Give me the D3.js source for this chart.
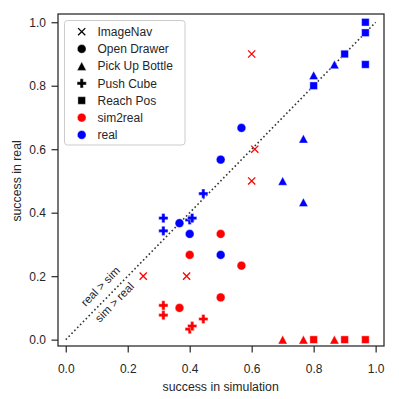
<!DOCTYPE html>
<html><head><meta charset="utf-8">
<script src="https://cdn.jsdelivr.net/npm/d3@7"></script>
<style>body{margin:0;background:#fff}svg{display:block}text{font-family:"Liberation Sans",Arial,sans-serif;fill:#262626}</style>
</head><body><svg id="c" width="399" height="399"></svg>
<script>
const tasks = ["ImageNav","Open Drawer","Pick Up Bottle","Push Cube","Reach Pos"];
const sources = ["sim2real","real"];
const sourceColors = ["#ff0000","#0000ff"];
const xTicks = [0,0.2,0.4,0.6,0.8,1.0];
const yTicks = [0,0.2,0.4,0.6,0.8,1.0];

// real (blue)
const realTask = ["Reach Pos","Reach Pos","Reach Pos","Reach Pos","Reach Pos",
  "Pick Up Bottle","Pick Up Bottle","Pick Up Bottle","Pick Up Bottle","Pick Up Bottle",
  "Open Drawer","Open Drawer","Open Drawer","Open Drawer","Open Drawer",
  "Push Cube","Push Cube","Push Cube","Push Cube","Push Cube"];
const realSim = [0.967,0.967,0.9,0.967,0.8, 0.867,0.8,0.767,0.7,0.767, 0.567,0.5,0.367,0.4,0.5, 0.444,0.315,0.315,0.4,0.408];
const realReal = [1.0,0.967,0.9,0.867,0.8, 0.867,0.833,0.633,0.5,0.433, 0.667,0.567,0.367,0.333,0.267, 0.46,0.383,0.343,0.377,0.383];

// sim2real (red)
const s2rTask = ["ImageNav","ImageNav","ImageNav","ImageNav","ImageNav",
  "Open Drawer","Open Drawer","Open Drawer","Open Drawer","Open Drawer",
  "Push Cube","Push Cube","Push Cube","Push Cube","Push Cube",
  "Pick Up Bottle","Pick Up Bottle","Pick Up Bottle",
  "Reach Pos","Reach Pos","Reach Pos"];
const s2rSim = [0.6,0.61,0.6,0.25,0.39, 0.5,0.4,0.567,0.5,0.367, 0.315,0.315,0.444,0.4,0.408, 0.7,0.767,0.867, 0.8,0.9,0.967];
const s2rReal = [0.9,0.6,0.5,0.2,0.2, 0.333,0.267,0.233,0.133,0.1, 0.108,0.077,0.065,0.033,0.043, 0,0,0, 0,0,0];

const svg = d3.select("#c");
const L=58, R=384, T=14, B=346;
const x = d3.scaleLinear().domain([-0.025,1.027]).range([L,R]);
const y = d3.scaleLinear().domain([-0.02,1.026]).range([B,T]);

function markerPath(task){
  if(task==="Open Drawer") return d3.symbol(d3.symbolCircle, 60)();
  if(task==="Reach Pos") return d3.symbol(d3.symbolSquare, 58)();
  if(task==="Pick Up Bottle"){ const w=4.6, h=4.3; return `M0,${-h}L${w},${h}L${-w},${h}Z`; }
  if(task==="Push Cube"){ const a=4.6, b=1.6;
    return `M${-b},${-a}H${b}V${-b}H${a}V${b}H${b}V${a}H${-b}V${b}H${-a}V${-b}H${-b}Z`; }
  if(task==="ImageNav"){ const a=3.6; return `M${-a},${-a}L${a},${a}M${-a},${a}L${a},${-a}`; }
}
function drawMarker(g, task, color, px, py){
  const isX = task==="ImageNav";
  g.append("path").attr("d", markerPath(task)).attr("transform",`translate(${px},${py})`)
    .attr("fill", isX ? "none" : color)
    .attr("stroke", isX ? color : "#fff").attr("stroke-width", isX?1.3:0.4);
}

// axes
const gx = svg.append("g").attr("transform",`translate(0,${B})`)
  .call(d3.axisBottom(x).tickValues(xTicks).tickFormat(d3.format(".1f")).tickSizeOuter(0).tickSize(6.5).tickPadding(5));
const gy = svg.append("g").attr("transform",`translate(${L},0)`)
  .call(d3.axisLeft(y).tickValues(yTicks).tickFormat(d3.format(".1f")).tickSizeOuter(0).tickSize(6.5).tickPadding(5.5));
[gx,gy].forEach(g=>{ g.select(".domain").remove();
  g.selectAll(".tick line").attr("stroke","#262626").attr("stroke-width",1.2);
  g.selectAll(".tick text").attr("font-size",12).style("font-family","Liberation Sans, Arial, sans-serif").attr("fill","#333"); });
gx.selectAll(".tick text").attr("dy","1.3em");

svg.append("rect").attr("x",L).attr("y",T).attr("width",R-L).attr("height",B-T)
  .attr("fill","none").attr("stroke","#262626").attr("stroke-width",1.25);

svg.append("text").attr("x",(x(0)+x(1))/2).attr("y",390.5).attr("text-anchor","middle").attr("font-size",12.3).attr("fill","#333").text("success in simulation");
svg.append("text").attr("transform",`translate(21,${(y(0)+y(1))/2}) rotate(-90)`).attr("text-anchor","middle").attr("font-size",12.3).attr("fill","#333").text("success in real");

// diagonal
svg.append("line").attr("x1",x(0)).attr("y1",y(0)).attr("x2",x(1)).attr("y2",y(1))
  .attr("stroke","#333").attr("stroke-width",1.6).attr("stroke-dasharray","1.6,2.5");
const ang = Math.atan2(y(1)-y(0), x(1)-x(0))*180/Math.PI;
svg.append("text").attr("transform",`translate(${x(0.114)},${y(0.166)}) rotate(${ang})`)
  .attr("text-anchor","middle").attr("dominant-baseline","middle").attr("font-size",11.5).attr("fill","#333").text("real > sim");
svg.append("text").attr("transform",`translate(${x(0.159)},${y(0.116)}) rotate(${ang})`)
  .attr("text-anchor","middle").attr("dominant-baseline","middle").attr("font-size",11.5).attr("fill","#333").text("sim > real");

// points
const gp = svg.append("g");
s2rTask.forEach((t,i)=>drawMarker(gp,t,sourceColors[0],x(s2rSim[i]),y(s2rReal[i])));
realTask.forEach((t,i)=>drawMarker(gp,t,sourceColors[1],x(realSim[i]),y(realReal[i])));

// legend
const lg = svg.append("g");
lg.append("rect").attr("x",64.5).attr("y",20.5).attr("width",120.5).attr("height",124.5).attr("rx",3)
  .attr("fill","#fff").attr("fill-opacity",0.85).attr("stroke","#cccccc").attr("stroke-width",1);
const items = tasks.map(t=>({label:t, task:t, color:"#000"}))
  .concat(sources.map((s,i)=>({label:s, task:"Open Drawer", color:sourceColors[i]})));
items.forEach((it,i)=>{
  const yy = 31.7 + i*17.2;
  drawMarker(lg, it.task, it.color, 81.7, yy);
  lg.append("text").attr("x",97.5).attr("y",yy).attr("dy","0.36em").attr("font-size",12).attr("fill","#333").text(it.label);
});
</script></body></html>
